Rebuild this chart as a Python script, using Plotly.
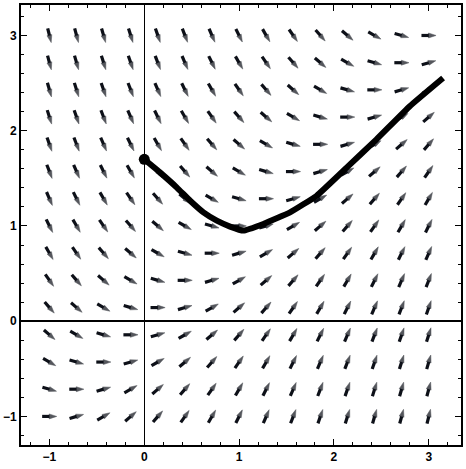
import plotly.graph_objects as go
import numpy as np

# Direction-field grid (15 x 15 points from -1 to 3)
x_grid = [-1.0, -0.714, -0.429, -0.143, 0.143, 0.429, 0.714, 1.0,
          1.286, 1.571, 1.857, 2.143, 2.429, 2.714, 3.0]
y_grid = [-1.0, -0.714, -0.429, -0.143, 0.143, 0.429, 0.714, 1.0,
          1.286, 1.571, 1.857, 2.143, 2.429, 2.714, 3.0]

# Solution curve
curve_x = [0.0, 0.168, 0.344, 0.484, 0.624, 0.765, 0.905, 1.045,
           1.256, 1.537, 1.818, 2.134, 2.449, 2.8, 3.151]
curve_y = [1.70, 1.56, 1.403, 1.264, 1.142, 1.055, 0.993, 0.951,
           1.021, 1.142, 1.317, 1.612, 1.909, 2.257, 2.553]

# initial point
start_x = [0.0]
start_y = [1.70]

tick_vals = [-1, 0, 1, 2, 3]
tick_text = ["\u22121", "0", "1", "2", "3"]


def field(x, y):
    # right-hand side of the differential equation dy/dx = x - y
    return x - y


half = 0.077  # half arrow length in data units
ax_x, ax_y, sizes = [], [], []
for yv in y_grid:
    for xv in x_grid:
        th = np.arctan(field(xv, yv))
        dx, dy = half * np.cos(th), half * np.sin(th)
        ax_x += [xv - dx, xv + dx, None]
        ax_y += [yv - dy, yv + dy, None]
        sizes += [0, 8, 0]

fig = go.Figure()
fig.add_trace(go.Scatter(
    x=ax_x, y=ax_y, mode="lines+markers",
    line=dict(color="#0d1018", width=3.2),
    marker=dict(symbol="arrow", angleref="previous", size=sizes,
                color="#0d1018", line=dict(width=0.5, color="#0d1018")),
    hoverinfo="skip", showlegend=False))
fig.add_trace(go.Scatter(
    x=curve_x, y=curve_y, mode="lines",
    line=dict(color="black", width=6, shape="spline", smoothing=0.3),
    showlegend=False))
fig.add_trace(go.Scatter(
    x=start_x, y=start_y, mode="markers",
    marker=dict(color="black", size=11), showlegend=False))

axis_common = dict(
    showgrid=False, zeroline=True, zerolinecolor="black",
    showline=True, linecolor="black", linewidth=1.6, mirror="ticks",
    ticks="inside", ticklen=6, tickwidth=1.4, tickcolor="black",
    tickvals=tick_vals, ticktext=tick_text,
    tickfont=dict(family="Liberation Sans", size=12, color="black", weight="bold"),
    minor=dict(ticks="inside", ticklen=3, tickwidth=1, tickcolor="black", dtick=0.2, tick0=0),
)

fig.update_layout(
    width=466, height=469,
    margin=dict(l=21, r=5, t=3, b=24),
    paper_bgcolor="white", plot_bgcolor="white",
    xaxis=dict(range=[-1.3, 3.34], zerolinewidth=1.3, **axis_common),
    yaxis=dict(range=[-1.3, 3.32], zerolinewidth=2, **axis_common),
)

fig.write_html("out.html")
